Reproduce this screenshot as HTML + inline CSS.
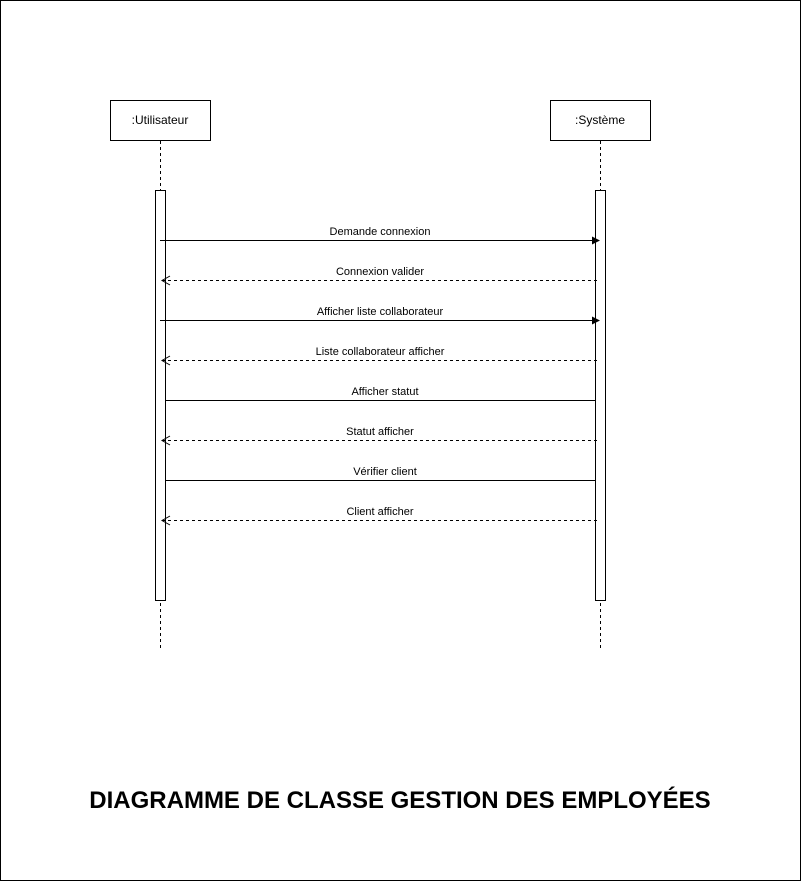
<!DOCTYPE html>
<html><head><meta charset="utf-8"><style>
html,body{margin:0;padding:0;background:#fff;}
svg{display:block;}
text{font-family:"Liberation Sans",Arial,sans-serif;}
</style></head><body>
<svg width="802" height="883" viewBox="0 0 802 883" xmlns="http://www.w3.org/2000/svg">
<rect x="0.5" y="0.5" width="800" height="880" fill="#fff" stroke="#000"/>
<g stroke="#000" fill="#fff">
<rect x="110.5" y="100.5" width="100" height="40"/>
<rect x="550.5" y="100.5" width="100" height="40"/>
<line x1="160.5" y1="141" x2="160.5" y2="648" stroke-dasharray="3,3"/>
<line x1="600.5" y1="141" x2="600.5" y2="648" stroke-dasharray="3,3"/>
<rect x="155.5" y="190.5" width="10" height="410"/>
<rect x="595.5" y="190.5" width="10" height="410"/>
</g>
<g font-size="12" text-anchor="middle" fill="#000">
<text x="160" y="124">:Utilisateur</text>
<text x="600" y="124">:Système</text>
</g>
<g stroke="#000" fill="none">
<line x1="160" y1="240.5" x2="594" y2="240.5"/>
<line x1="160" y1="320.5" x2="594" y2="320.5"/>
<line x1="165" y1="400.5" x2="595" y2="400.5"/>
<line x1="165" y1="480.5" x2="595" y2="480.5"/>
<g stroke-dasharray="3,3">
<line x1="162" y1="280.5" x2="600" y2="280.5"/>
<line x1="162" y1="360.5" x2="600" y2="360.5"/>
<line x1="162" y1="440.5" x2="600" y2="440.5"/>
<line x1="162" y1="520.5" x2="600" y2="520.5"/>
</g>
<path d="M170 276 L162 280.5 L170 285"/>
<path d="M170 356 L162 360.5 L170 365"/>
<path d="M170 436 L162 440.5 L170 445"/>
<path d="M170 516 L162 520.5 L170 525"/>
</g>
<g fill="#000">
<path d="M592 236.5 L600 240.5 L592 244.5Z"/>
<path d="M592 316.5 L600 320.5 L592 324.5Z"/>
</g>
<g font-size="11" text-anchor="middle" fill="#000">
<text x="380" y="235">Demande connexion</text>
<text x="380" y="275">Connexion valider</text>
<text x="380" y="315">Afficher liste collaborateur</text>
<text x="380" y="355">Liste collaborateur afficher</text>
<text x="385" y="395">Afficher statut</text>
<text x="380" y="435">Statut afficher</text>
<text x="385" y="475">Vérifier client</text>
<text x="380" y="515">Client afficher</text>
</g>
<text x="400" y="808" font-size="24" font-weight="bold" text-anchor="middle" fill="#000">DIAGRAMME DE CLASSE GESTION DES EMPLOYÉES</text>
</svg>
</body></html>
